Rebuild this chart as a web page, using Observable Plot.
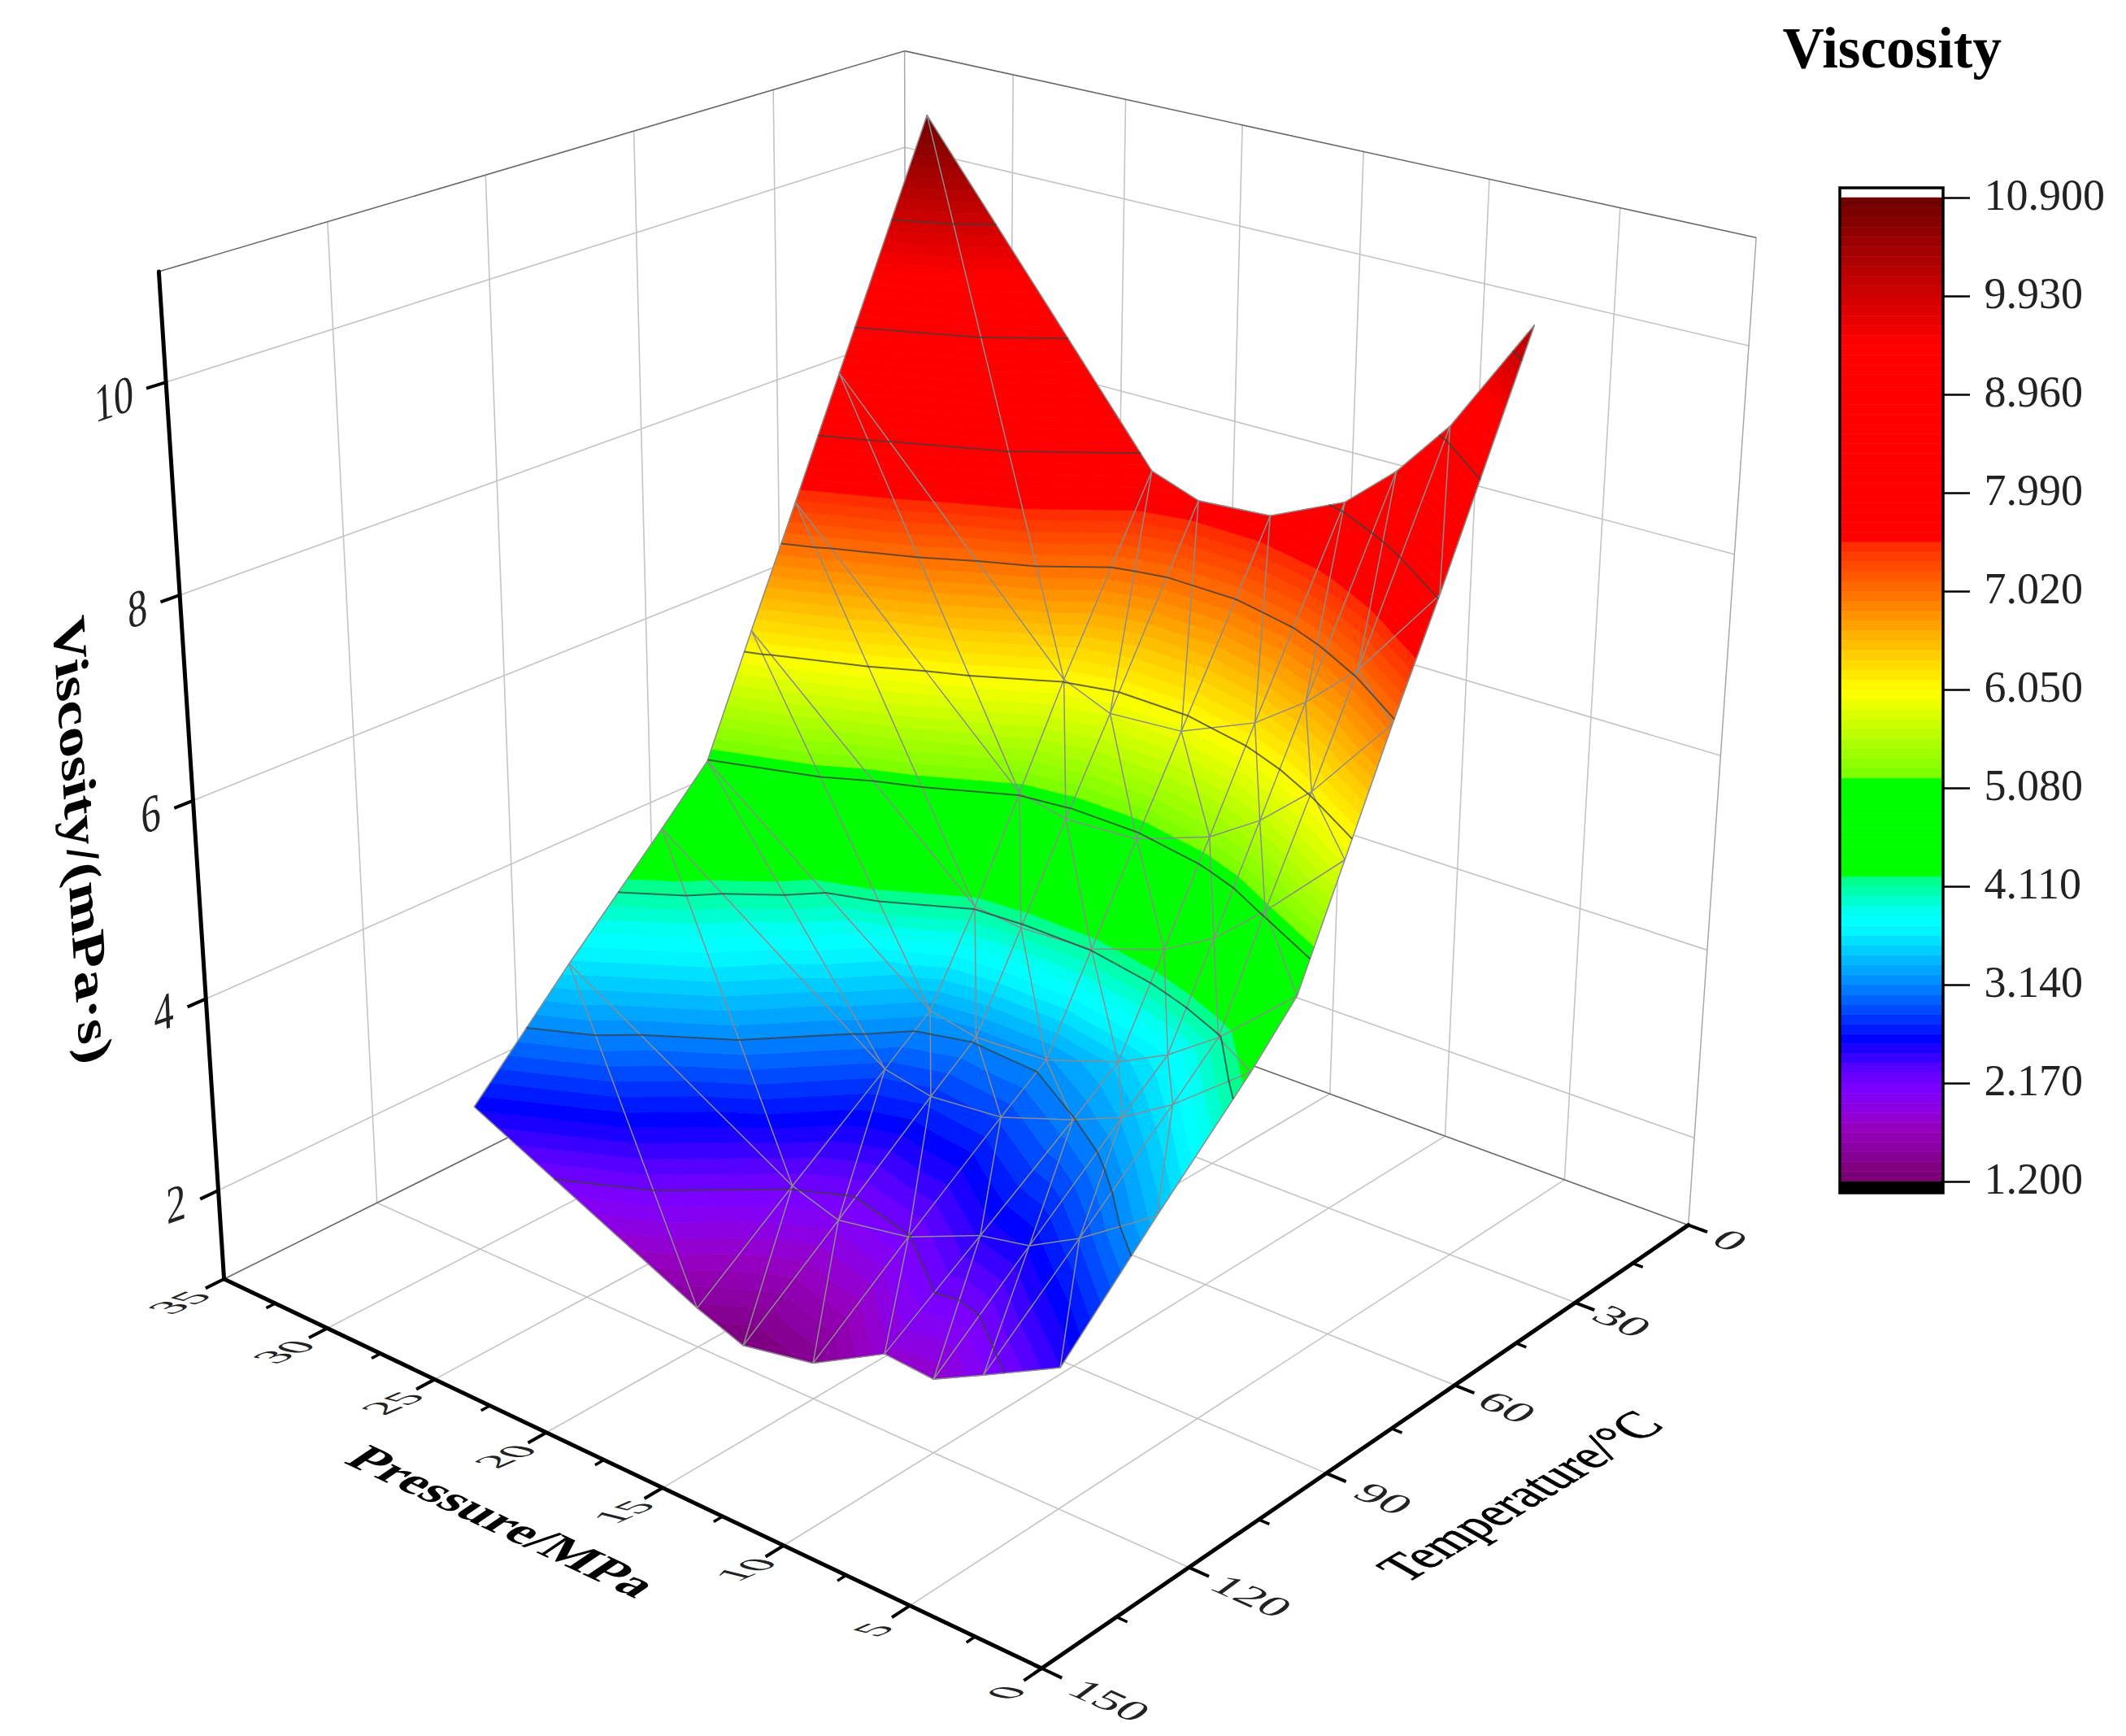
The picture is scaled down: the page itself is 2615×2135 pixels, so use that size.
<!DOCTYPE html>
<html>
<head>
<meta charset="utf-8">
<script src="https://cdn.jsdelivr.net/npm/d3@7"></script>
<script src="https://cdn.jsdelivr.net/npm/@observablehq/plot@0.6"></script>
<style>
html,body{margin:0;padding:0;background:#fff}
#chart{position:relative;width:2615px;height:2135px;overflow:hidden}
#chart svg{position:absolute;left:0;top:0;background:transparent}
</style>
</head>
<body>
<div id="chart"></div>
<script>
// ---- data ----
const temperatures = [20, 40, 50, 60, 70, 80, 100, 120];
const pressures = [30, 20, 18, 15, 12, 10, 8, 5];
const viscosityAt20 = [10.87, 7.84, 7.67, 7.72, 8.06, 8.50, 9.07, 10.22];
const viscosityAt40 = [8.55, 6.07, 5.87, 5.92, 6.24, 6.60, 7.07, 8.02];
const viscosityAt50 = [7.39, 5.10, 4.99, 5.03, 5.30, 5.63, 6.08, 6.98];
const viscosityAt60 = [6.24, 4.13, 4.08, 4.12, 4.38, 4.67, 5.12, 5.88];
const viscosityAt70 = [5.07, 3.27, 3.17, 3.21, 3.47, 3.73, 4.09, 4.78];
const viscosityAt80 = [4.57, 2.90, 2.80, 2.87, 3.13, 3.35, 3.67, 4.28];
const viscosityAt100 = [3.60, 2.19, 2.03, 2.16, 2.48, 2.58, 2.86, 3.39];
const viscosityAt120 = [2.58, 1.46, 1.28, 1.42, 1.84, 1.80, 2.06, 2.46];
const viscosityRows = [viscosityAt20, viscosityAt40, viscosityAt50, viscosityAt60, viscosityAt70, viscosityAt80, viscosityAt100, viscosityAt120];

const colorbarTicks = [1.2, 2.17, 3.14, 4.11, 5.08, 6.05, 7.02, 7.99, 8.96, 9.93, 10.9];
const colorStops = [1.2, 1.75, 2.09, 2.27, 2.6, 3.14, 3.72, 3.82, 4.02, 4.2, 4.21, 5.18, 5.19, 6.03, 6.43, 7.02, 7.5, 7.51, 9.46, 10.9];
const colorValues = ["rgb(120,0,110)", "rgb(150,0,195)", "rgb(128,0,255)", "rgb(100,0,255)", "rgb(0,0,255)", "rgb(0,135,255)", "rgb(0,255,255)", "rgb(0,255,255)", "rgb(0,255,190)", "rgb(0,255,128)", "rgb(0,255,0)", "rgb(0,255,0)", "rgb(120,255,0)", "rgb(255,255,0)", "rgb(255,200,0)", "rgb(255,110,0)", "rgb(255,40,0)", "rgb(255,0,0)", "rgb(255,0,0)", "rgb(110,0,0)"];
const bandStep = 0.097;

const pressureTicks = [0, 5, 10, 15, 20, 25, 30, 35];
const pressureMinor = [2.5, 7.5, 12.5, 17.5, 22.5, 27.5, 32.5];
const temperatureTicks = [0, 30, 60, 90, 120, 150];
const temperatureMinor = [15, 45, 75, 105, 135];
const viscosityTicks = [2, 4, 6, 8, 10];
const zMin = 1.05, zMax = 11.01, tMax = 150, pMax = 35;

// ---- 3D camera: maps (T, P, viscosity) to the page ----
const K = 1.6677;
function project(T, P, V) {
  const s = (150 - T) / 150, r = P / 35, q = (V - 1.05) / 9.96;
  const w = 1 + 0.1791 * s + 0.15247 * r - 0.09716 * q;
  return {
    x: K * (768 + 699.9 * s - 577.9 * r - 66.8 * q) / w,
    y: K * (1230 - 165.1 * s - 143.3 * r - 875.6 * q) / w
  };
}
function seg(a, b) {
  const p = project(...a), q = project(...b);
  return {x1: p.x, y1: p.y, x2: q.x, y2: q.y};
}

// ---- mesh ----
const node = (i, j) => ({T: temperatures[i], P: pressures[j], V: viscosityRows[i][j]});
const triangles = [];
for (let i = 0; i < temperatures.length - 1; i++) {
  for (let j = 0; j < pressures.length - 1; j++) {
    triangles.push([node(i, j), node(i, j + 1), node(i + 1, j + 1)]);
    triangles.push([node(i, j), node(i + 1, j), node(i + 1, j + 1)]);
  }
}
const mix = (a, b, v) => {
  const t = (v - a.V) / (b.V - a.V);
  return {T: a.T + t * (b.T - a.T), P: a.P + t * (b.P - a.P), V: v};
};
function clipAbove(poly, v, keepAbove) {
  const out = [];
  poly.forEach((a, k) => {
    const b = poly[(k + 1) % poly.length];
    const ina = keepAbove ? a.V >= v : a.V <= v;
    const inb = keepAbove ? b.V >= v : b.V <= v;
    if (ina) out.push(a);
    if (ina !== inb) out.push(mix(a, b, v));
  });
  return out;
}
const bandVertices = [];
let polyId = 0;
for (const tri of triangles) {
  for (let k = 0; k < 100; k++) {
    const lo = 1.2 + k * bandStep, hi = lo + bandStep;
    let poly = clipAbove(tri, lo, true);
    if (poly.length) poly = clipAbove(poly, hi, false);
    if (poly.length < 3) continue;
    const id = polyId++;
    [...poly, poly[0]].forEach(p => {
      const o = project(p.T, p.P, p.V);
      bandVertices.push({id, v: lo + bandStep / 2, x: o.x, y: o.y});
    });
  }
}
const edgeSeen = new Set(), meshEdges = [];
for (const tri of triangles) {
  tri.forEach((a, k) => {
    const b = tri[(k + 1) % 3];
    const key = [a.T, a.P, b.T, b.P].join();
    const rev = [b.T, b.P, a.T, a.P].join();
    if (edgeSeen.has(key) || edgeSeen.has(rev)) return;
    edgeSeen.add(key);
    meshEdges.push(seg([a.T, a.P, a.V], [b.T, b.P, b.V]));
  });
}
const contourSegments = [];
for (const level of colorbarTicks) {
  for (const tri of triangles) {
    const pts = [];
    tri.forEach((a, k) => {
      const b = tri[(k + 1) % 3];
      if ((a.V < level) !== (b.V < level)) pts.push(mix(a, b, level));
    });
    if (pts.length === 2) contourSegments.push(seg([pts[0].T, pts[0].P, level], [pts[1].T, pts[1].P, level]));
  }
}

// ---- box ----
const gridSegments = [];
for (const z of viscosityTicks) {
  gridSegments.push(seg([tMax, pMax, z], [0, pMax, z]), seg([0, pMax, z], [0, 0, z]));
}
for (const t of temperatureTicks.slice(1, -1)) {
  gridSegments.push(seg([t, pMax, zMin], [t, pMax, zMax]), seg([t, 0, zMin], [t, pMax, zMin]));
}
for (const p of pressureTicks.slice(1, -1)) {
  gridSegments.push(seg([0, p, zMin], [0, p, zMax]), seg([0, p, zMin], [tMax, p, zMin]));
}
const backEdges = [
  seg([0, pMax, zMin], [0, pMax, zMax]),
  seg([0, 0, zMin], [0, 0, zMax])
];
const darkEdges = [
  seg([tMax, pMax, zMin], [0, pMax, zMin]),
  seg([0, pMax, zMin], [0, 0, zMin]),
  seg([tMax, pMax, zMax], [0, pMax, zMax]),
  seg([0, pMax, zMax], [0, 0, zMax])
];
const axisLines = [
  seg([tMax, 0, zMin], [tMax, pMax, zMin]),
  seg([tMax, 0, zMin], [0, 0, zMin]),
  seg([tMax, pMax, zMin], [tMax, pMax, zMax])
];
const majorTicks = [
  ...pressureTicks.map(p => seg([tMax, p, zMin], [tMax + 3.5, p, zMin])),
  ...temperatureTicks.map(t => seg([t, 0, zMin], [t, -0.75, zMin])),
  ...viscosityTicks.map(z => seg([tMax, pMax, z], [tMax + 3.4, pMax, z]))
];
const minorTicks = [
  ...pressureMinor.map(p => seg([tMax, p, zMin], [tMax + 1.7, p, zMin])),
  ...temperatureMinor.map(t => seg([t, 0, zMin], [t, -0.4, zMin]))
];

const serif = "Liberation Serif";
const link = (data, o) => Plot.link(data, {x1: "x1", y1: "y1", x2: "x2", y2: "y2", ...o});

const colorScale = {type: "linear", domain: colorStops, range: colorValues};

const main = Plot.plot({
  width: 2615, height: 2135, margin: 0,
  x: {domain: [0, 2615], range: [0, 2615], axis: null},
  y: {domain: [0, 2135], range: [0, 2135], axis: null},
  color: colorScale,
  style: {background: "transparent"},
  marks: [
    link(gridSegments, {stroke: "#c4c4c4", strokeWidth: 1.6}),
    link(backEdges, {stroke: "#a8a8a8", strokeWidth: 1.5}),
    link(darkEdges, {stroke: "#6a6a6a", strokeWidth: 1.6}),
    Plot.line(bandVertices, {x: "x", y: "y", z: "id", fill: "v", stroke: "v", strokeWidth: 0.8, curve: "linear"}),
    link(meshEdges, {stroke: "#8c8c8c", strokeWidth: 1.5}),
    link(contourSegments, {stroke: "#3c3c3c", strokeWidth: 2, strokeOpacity: 0.75}),
    link(axisLines, {stroke: "#000", strokeWidth: 5, strokeLinecap: "round"}),
    link(majorTicks, {stroke: "#000", strokeWidth: 4}),
    link(minorTicks, {stroke: "#000", strokeWidth: 3.5}),
    Plot.text(pressureTicks, {
      x: d => project(tMax, d, zMin).x - 43 - 11 * d / pMax, y: d => project(tMax, d, zMin).y + 30 - d / pMax,
      text: d => String(d), fontFamily: serif, fontSize: 50, fill: "#222", className: "lab-p"
    }),
    Plot.text(temperatureTicks, {
      x: d => project(d, 0, zMin).x + 51 + 32 * d / tMax, y: d => project(d, 0, zMin).y + 19 + 21 * d / tMax,
      text: d => String(d), fontFamily: serif, fontSize: 50, fill: "#222", className: "lab-t"
    }),
    Plot.text(viscosityTicks, {
      x: d => project(tMax, pMax, d).x - 40, y: d => project(tMax, pMax, d).y + 13,
      text: d => String(d), fontFamily: serif, fontSize: 50, fill: "#222", textAnchor: "end", className: "lab-z"
    }),
    Plot.text(["Pressure/MPa"], {x: () => 617, y: () => 1871, text: d => d, fontFamily: serif, fontWeight: "bold", fontSize: 60, fill: "#000", className: "title-p"}),
    Plot.text(["Temperature/°C"], {x: () => 1870, y: () => 1840, text: d => d, fontFamily: serif, fontSize: 60, fill: "#000", stroke: "#000", strokeWidth: 0.8, className: "title-t"}),
    Plot.text(["Viscosity/(mPa·s)"], {x: () => 100, y: () => 1033, text: d => d, fontFamily: serif, fontWeight: "bold", fontSize: 60, fill: "#000", className: "title-z"}),
    Plot.text(["Viscosity"], {x: () => 2192, y: () => 60, text: d => d, fontFamily: serif, fontWeight: "bold", fontSize: 71, fill: "#000", textAnchor: "start"})
  ]
});

// text lying in the planes of the 3D box
const skews = {
  "lab-p": [1.08, -0.47, 0.95, 0.235],
  "lab-t": [1.133, 0.504, -0.736, 0.534],
  "lab-z": [0.964, -0.332, 0.05, 1.28],
  "title-p": [0.997, 0.465, -0.83, 0.56],
  "title-t": [0.834, -0.505, 0.974, 0.56],
  "title-z": [0.076, 1.228, -0.96, 0.285]
};
for (const [cls, m] of Object.entries(skews)) {
  main.querySelectorAll(`.${cls} text`).forEach(el => {
    el.setAttribute("transform", `${el.getAttribute("transform") || ""} matrix(${m.join(" ")} 0 0)`);
  });
}

// ---- colour bar with its own scale and axis ----
const bands = d3.range(100).map(k => ({lo: 1.2 + k * bandStep, hi: 1.2 + (k + 1) * bandStep, mid: 1.2 + (k + 0.5) * bandStep}));
const legend = Plot.plot({
  width: 2615, height: 2135,
  marginLeft: 2263, marginRight: 225, marginTop: 243, marginBottom: 682,
  x: {domain: [0, 1], axis: null},
  y: {domain: [1.2, 10.9], range: [1453, 243], axis: null},
  color: colorScale,
  style: {background: "transparent"},
  marks: [
    Plot.rect(bands, {x1: 0, x2: 1, y1: "lo", y2: "hi", fill: "mid", stroke: "mid", strokeWidth: 0.5}),
    Plot.rect([0], {x1: 0, x2: 1, y1: 1.2 - 14 / 124.74, y2: 1.2, fill: "#000"}),
    Plot.rect([0], {x1: 0, x2: 1, y1: 1.2 - 14 / 124.74, y2: 10.9 + 12 / 124.74, fill: "none", stroke: "#000", strokeWidth: 3.5}),
    Plot.axisY(colorbarTicks, {
      anchor: "right", label: null, tickSize: 32, tickPadding: 18, strokeWidth: 2.5,
      tickFormat: d => d.toFixed(3), fontFamily: serif, fontSize: 54, fill: "#222"
    })
  ]
});
legend.querySelectorAll("text").forEach(el => {
  el.setAttribute("transform", `${el.getAttribute("transform") || ""} translate(0,-3)`);
});

const root = document.getElementById("chart");
root.append(main, legend);
</script>
</body>
</html>
